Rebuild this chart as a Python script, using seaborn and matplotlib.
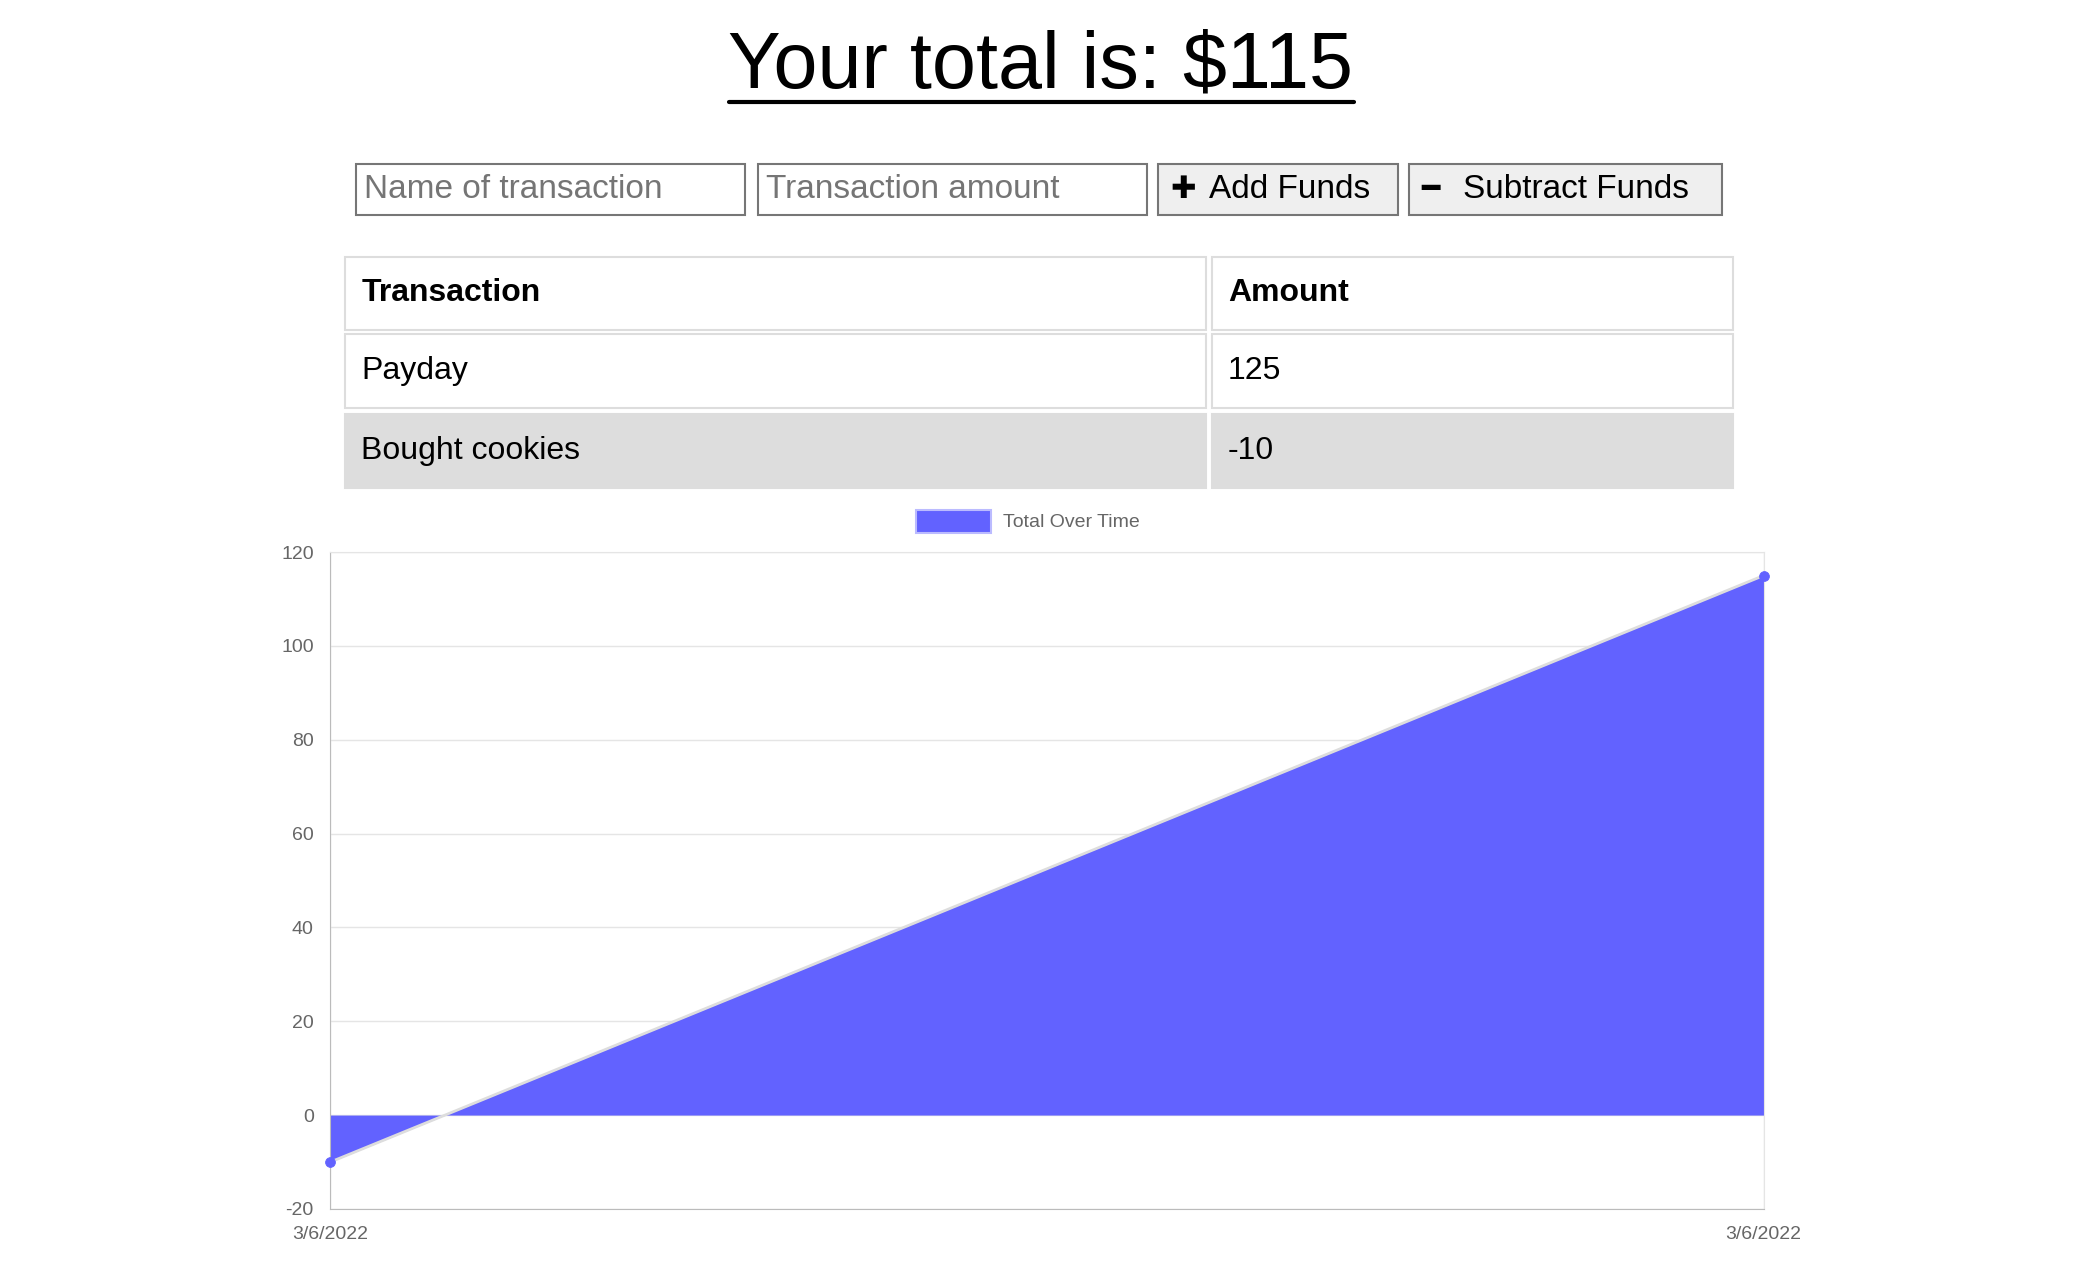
import matplotlib
matplotlib.use("Agg")
import matplotlib.pyplot as plt
import matplotlib.patches as mpatches
import seaborn as sns
import pandas as pd

sns.set_style("white")
plt.rcParams['font.family'] = ['Liberation Sans', 'DejaVu Sans']
plt.rcParams['axes.unicode_minus'] = False
plt.rcParams['text.color'] = 'black'

dates = ["3/6/2022", "3/6/2022"]
totals = [-10, 115]
tx_names = ["Payday", "Bought cookies"]
tx_amounts = [125, -10]
total = 115

W, H = 1550.0, 944.0
fx = lambda x: x / W
fy = lambda y: 1 - y / H

fig = plt.figure(figsize=(20.82, 12.68), dpi=100)

# title, underlined under its own width
t = fig.text(0.5, fy(50), f"Your total is: ${total}", ha="center", va="center", fontsize=57)
fig.canvas.draw()
bb = t.get_window_extent().transformed(fig.transFigure.inverted())
fig.add_artist(plt.Line2D([bb.x0, bb.x1], [fy(76), fy(76)], color="black", lw=3))

def box(x0, y0, x1, y1, fc="white", ec="#767676", lw=1.5):
    fig.add_artist(mpatches.Rectangle((fx(x0), fy(y1)), fx(x1) - fx(x0), fy(y0) - fy(y1),
                                      transform=fig.transFigure, fc=fc, ec=ec, lw=lw))

box(265, 122, 555, 160)
fig.text(fx(271), fy(141), "Name of transaction", va="center", fontsize=24, color="#757575")
box(564, 122, 854, 160)
fig.text(fx(570), fy(141), "Transaction amount", va="center", fontsize=24, color="#757575")
box(862, 122, 1041, 160, fc="#efefef")
fig.text(fx(871), fy(141), "✚", va="center", fontsize=22, family=['DejaVu Sans'])
fig.text(fx(900), fy(141), "Add Funds", va="center", fontsize=24)
box(1049, 122, 1282, 160, fc="#efefef")
fig.text(fx(1058), fy(141), "━", va="center", fontsize=22, family=['DejaVu Sans'])
fig.text(fx(1089), fy(141), "Subtract Funds", va="center", fontsize=24)

# table
rows = [("Transaction", "Amount", True)] + [(n, str(a), False) for n, a in zip(tx_names, tx_amounts)]
tops = [191, 249, 308]
for i, (name, amt, hdr) in enumerate(rows):
    y0 = tops[i]
    y1 = y0 + 55
    fc = "#dddddd" if i == 2 else "white"
    box(257, y0, 898, y1, fc=fc, ec="#dddddd")
    box(902, y0, 1290, y1, fc=fc, ec="#dddddd")
    w = "bold" if hdr else "normal"
    fig.text(fx(269), fy((y0 + y1) / 2), name, va="center", fontsize=23, weight=w)
    fig.text(fx(914), fy((y0 + y1) / 2), amt, va="center", fontsize=23, weight=w)

# chart
ax = fig.add_axes([fx(246), fy(900), fx(1313) - fx(246), fy(411) - fy(900)])
df = pd.DataFrame({"idx": range(len(totals)), "total": totals})
blue = "#6262ff"
ax.fill_between(df["idx"], df["total"], 0, color=blue, lw=0)
sns.lineplot(data=df, x="idx", y="total", ax=ax, color="#dddddd", lw=2)
sns.scatterplot(data=df, x="idx", y="total", ax=ax, color=blue, s=50, edgecolor=blue,
                zorder=5, clip_on=False)
ax.set_xlim(0, 1)
ax.set_ylim(-20, 120)
ax.set_yticks(range(-20, 121, 20))
ax.set_xticks(df["idx"])
ax.set_xticklabels(dates)
ax.tick_params(labelsize=14, colors="#666666", length=0, pad=12)
ax.grid(axis="both", color="#e5e5e5", lw=1)
ax.set_axisbelow(True)
for s in ax.spines.values():
    s.set_color("#e5e5e5")
ax.spines["left"].set_color("#bbbbbb")
ax.spines["bottom"].set_color("#bbbbbb")
ax.set_xlabel("")
ax.set_ylabel("")

# legend
box(682, 380, 738, 397, fc=blue, ec="#bbbbff")
fig.text(fx(747), fy(389), "Total Over Time", va="center", fontsize=14, color="#666666")

fig.savefig("out.png", dpi=100)
